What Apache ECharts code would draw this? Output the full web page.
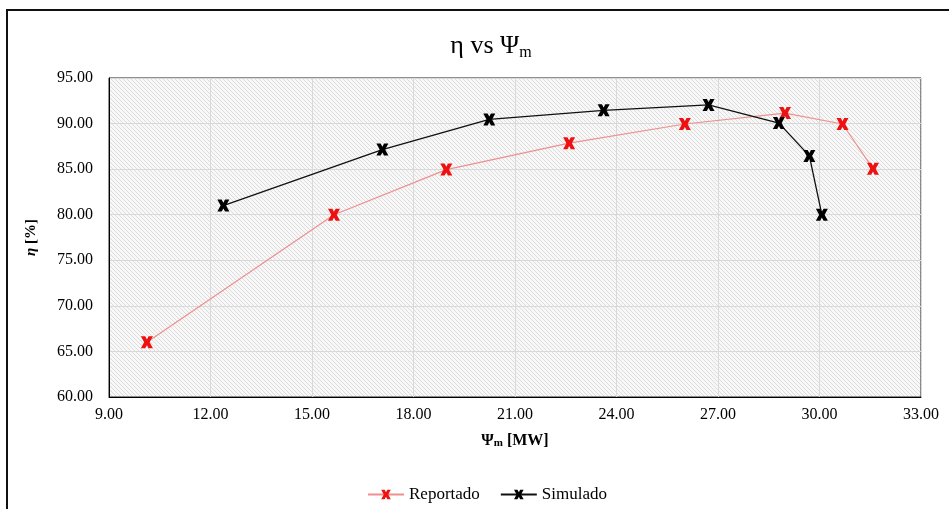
<!DOCTYPE html>
<html>
<head>
<meta charset="utf-8">
<script src="https://cdn.jsdelivr.net/npm/echarts@6/dist/echarts.min.js"></script>
<style>
  html, body { margin: 0; padding: 0; background: #fff; }
  #chart { width: 949px; height: 509px; }
</style>
</head>
<body>
<div id="chart"></div>
<script>
// Mechanical power [MW] and efficiency [%] for the reported and simulated curves
const reportadoPsi = [10.12, 15.65, 18.97, 22.60, 26.02, 28.98, 30.68, 31.58];
const reportadoEta = [66.00, 80.00, 84.95, 87.85, 89.95, 91.15, 89.95, 85.05];
const simuladoPsi  = [12.38, 17.08, 20.24, 23.62, 26.72, 28.80, 29.70, 30.07];
const simuladoEta  = [81.00, 87.15, 90.45, 91.45, 92.05, 90.05, 86.45, 80.00];

const xTicks = { min: 9, max: 33, step: 3 };
const yTicks = { min: 60, max: 95, step: 5 };

const serif = '"Liberation Serif", "Times New Roman", serif';

// diagonal hatch used as the plot background
function hatchPattern() {
  const s = 4;
  const c = document.createElement('canvas');
  c.width = s; c.height = s;
  const g = c.getContext('2d');
  g.fillStyle = '#f8f8f8';
  g.fillRect(0, 0, s, s);
  g.strokeStyle = '#d8d8d8';
  g.lineWidth = 0.9;
  g.beginPath();
  g.moveTo(-1, -1); g.lineTo(s + 1, s + 1);
  g.moveTo(-1, s - 1); g.lineTo(1, s + 1);
  g.moveTo(s - 1, -1); g.lineTo(s + 1, 1);
  g.stroke();
  return { image: c, repeat: 'repeat' };
}

// X-shaped marker with flat ends
const xMark = 'path://M0,0 L3.6,0 L5,2.6 L6.4,0 L10,0 L7.3,5 L10,10 L6.4,10 L5,7.4 L3.6,10 L0,10 L2.7,5 Z';

function pairs(xs, ys) { return xs.map((x, i) => [x, ys[i]]); }

const chart = echarts.init(document.getElementById('chart'), null, { renderer: 'canvas' });

chart.setOption({
  animation: false,
  backgroundColor: '#fff',
  textStyle: { fontFamily: serif },
  graphic: [{
    type: 'rect',
    shape: { x: 7, y: 10, width: 980, height: 540 },
    style: { fill: 'none', stroke: '#111', lineWidth: 2 },
    silent: true
  }],
  title: {
    text: 'η vs Ψ{sub|m}',
    left: 486, top: 27, textAlign: 'center',
    textStyle: {
      fontFamily: serif, fontSize: 26, fontWeight: 'normal', color: '#000',
      rich: { sub: { fontFamily: serif, fontSize: 16, color: '#000', verticalAlign: 'bottom', padding: [13, 0, 0, 0] } }
    }
  },
  grid: {
    left: 109, right: 28, top: 78, bottom: 112,
    show: true,
    backgroundColor: hatchPattern(),
    borderColor: '#222', borderWidth: 1
  },
  legend: {
    left: 362, top: 481,
    itemWidth: 36, itemHeight: 12, itemGap: 20,
    textStyle: { fontFamily: serif, fontSize: 17, color: '#000' },
    data: ['Reportado', 'Simulado']
  },
  xAxis: {
    type: 'value', min: xTicks.min, max: xTicks.max, interval: xTicks.step,
    name: 'Ψ{sub|m} [MW]', nameLocation: 'middle', nameGap: 35,
    nameTextStyle: {
      fontFamily: serif, fontSize: 16, fontWeight: 'bold', color: '#000',
      rich: { sub: { fontFamily: serif, fontSize: 11, fontWeight: 'bold', color: '#000', padding: [6, 0, 0, 0] } }
    },
    axisLine: { lineStyle: { color: '#000', width: 1 } },
    axisTick: { show: false },
    axisLabel: { fontFamily: serif, fontSize: 16, color: '#000', margin: 10, formatter: v => v.toFixed(2) },
    splitLine: { show: true, lineStyle: { color: '#d9d9d9', width: 1 } }
  },
  yAxis: {
    type: 'value', min: yTicks.min, max: yTicks.max, interval: yTicks.step,
    name: '{it|η} [%]', nameLocation: 'middle', nameGap: 70, nameRotate: 90,
    nameTextStyle: {
      fontFamily: serif, fontSize: 15, fontWeight: 'bold', color: '#000',
      rich: { it: { fontFamily: serif, fontSize: 15, fontStyle: 'italic', fontWeight: 'bold', color: '#000' } }
    },
    axisLine: { show: true, lineStyle: { color: '#000', width: 1 } },
    axisTick: { show: false },
    axisLabel: { fontFamily: serif, fontSize: 16, color: '#000', margin: 16, formatter: v => v.toFixed(2) },
    splitLine: { show: true, lineStyle: { color: '#d9d9d9', width: 1 } }
  },
  series: [
    {
      name: 'Reportado', type: 'line',
      data: pairs(reportadoPsi, reportadoEta),
      symbol: xMark, symbolSize: 12,
      itemStyle: { color: '#ee1111' },
      lineStyle: { color: '#ef8f8f', width: 1.2 },
      z: 3
    },
    {
      name: 'Simulado', type: 'line',
      data: pairs(simuladoPsi, simuladoEta),
      symbol: xMark, symbolSize: 12,
      itemStyle: { color: '#000' },
      lineStyle: { color: '#111', width: 1.3 },
      z: 4
    }
  ]
});
</script>
</body>
</html>
